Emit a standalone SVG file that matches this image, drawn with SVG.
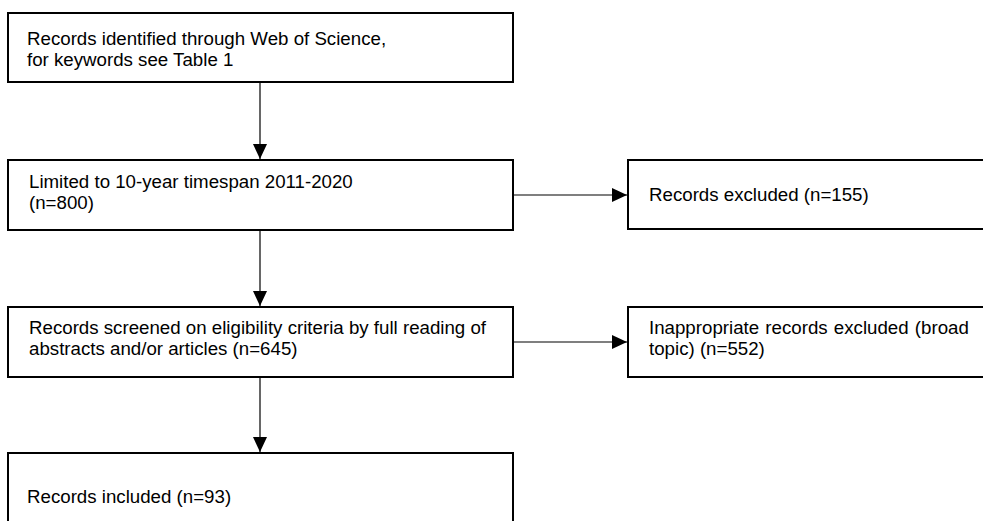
<svg xmlns="http://www.w3.org/2000/svg" width="983" height="521" viewBox="0 0 983 521">
<style>
.box{fill:#fff;stroke:#000;stroke-width:2}
.t{font-family:"Liberation Sans",Arial,sans-serif;font-size:18.7px;fill:#000}
.c{stroke:#000;stroke-width:1.2;fill:none}
</style>
<defs>
<marker id="ah" markerWidth="15" markerHeight="14" refX="15" refY="7" orient="auto" markerUnits="userSpaceOnUse">
<path d="M0,0 L15,7 L0,14 Z" fill="#000"/>
</marker>
</defs>
<rect width="983" height="521" fill="#fff"/>
<g id="connectors">
<line class="c" x1="260" y1="82" x2="260" y2="159" marker-end="url(#ah)"/>
<line class="c" x1="260" y1="230" x2="260" y2="306" marker-end="url(#ah)"/>
<line class="c" x1="260" y1="377" x2="260" y2="452" marker-end="url(#ah)"/>
<line class="c" x1="513" y1="195" x2="627" y2="195" marker-end="url(#ah)"/>
<line class="c" x1="513" y1="342" x2="627" y2="342" marker-end="url(#ah)"/>
</g>
<g id="n1">
<rect class="box" x="8" y="13" width="505" height="69"/>
<text class="t" x="27" y="45">Records identified through Web of Science,</text>
<text class="t" x="27" y="66">for keywords see Table 1</text>
</g>
<g id="n2">
<rect class="box" x="8" y="160" width="505" height="70"/>
<text class="t" x="29" y="188">Limited to 10-year timespan 2011-2020</text>
<text class="t" x="29" y="209">(n=800)</text>
</g>
<g id="n3">
<rect class="box" x="628" y="160" width="400" height="69"/>
<text class="t" x="649" y="201">Records excluded (n=155)</text>
</g>
<g id="n4">
<rect class="box" x="8" y="307" width="505" height="70"/>
<text class="t" x="29" y="334">Records screened on eligibility criteria by full reading of</text>
<text class="t" x="29" y="355">abstracts and/or articles (n=645)</text>
</g>
<g id="n5">
<rect class="box" x="628" y="307" width="400" height="70"/>
<text class="t" x="649" y="334" word-spacing="1">Inappropriate records excluded (broad</text>
<text class="t" x="649" y="355">topic) (n=552)</text>
</g>
<g id="n6">
<rect class="box" x="8" y="453" width="505" height="120"/>
<text class="t" x="27" y="503">Records included (n=93)</text>
</g>
</svg>
